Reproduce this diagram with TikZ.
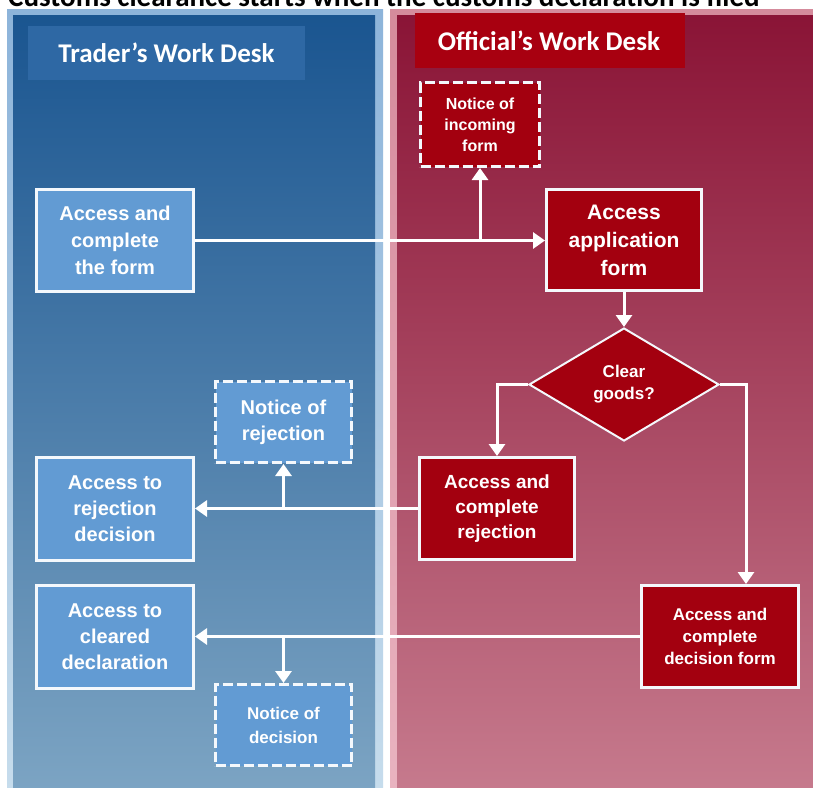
\documentclass[tikz,border=0pt]{standalone}
\usepackage{fontspec}
\setmainfont{Liberation Sans}
\newfontfamily\calib{Carlito}
\usetikzlibrary{shapes.geometric,arrows.meta,calc}
\definecolor{bluetop}{HTML}{1A5590}
\definecolor{bluebot}{HTML}{7CA4C3}
\definecolor{blueedgetop}{HTML}{8DB4DA}
\definecolor{blueedgebot}{HTML}{C6DCEC}
\definecolor{redtop}{HTML}{8A1436}
\definecolor{redbot}{HTML}{C67A8D}
\definecolor{rededgetop}{HTML}{D58B9C}
\definecolor{rededgebot}{HTML}{E9B3C0}
\definecolor{boxblue}{HTML}{629BD3}
\definecolor{boxred}{HTML}{A3000F}
\definecolor{hdrblue}{HTML}{2E68A4}
\definecolor{hdrred}{HTML}{A80010}
\definecolor{edgewhite}{HTML}{F4F8FC}
\newcommand\myfs[2]{\fontsize{#1}{#2}\selectfont\bfseries}
\tikzset{
  bluebox/.style={draw=edgewhite, line width=3pt, fill=boxblue, text=white, align=center, inner sep=0pt},
  redbox/.style={draw=edgewhite, line width=3pt, fill=boxred, text=white, align=center, inner sep=0pt},
  dashedge/.style={dash pattern=on 10pt off 4pt},
  conn/.style={draw=white, line width=3pt},
  arr/.style={conn, -{Triangle[length=12pt,width=16pt]}},
  hdr/.style={text=white, inner sep=0pt, font=\calib\bfseries\fontsize{27}{30}\selectfont}
}
\begin{document}
\begin{tikzpicture}[x=1pt,y=-1pt]
\useasboundingbox (0,0) rectangle (813,787);
\fill[white] (0,0) rectangle (813,787);
% title (cut off at the top, as in the reference)
\node[anchor=base west, inner sep=0pt, text=black, font=\calib\bfseries\fontsize{29}{32}\selectfont] (title) at (8,6.5) {Customs clearance starts when the customs declaration is filed};
% left panel
\shade[top color=blueedgetop, bottom color=blueedgebot] (7,9) rectangle (383,790);
\shade[top color=bluetop, bottom color=bluebot] (13,15) rectangle (375,790);
% right panel
\shade[top color=rededgetop, bottom color=rededgebot] (390,9) rectangle (820,790);
\shade[top color=redtop, bottom color=redbot] (397,15) rectangle (820,790);
% headers
\fill[hdrblue] (28,26) rectangle (305,80);
\node[hdr] (th) at (166.5,53) {Trader’s Work Desk};
\fill[hdrred] (415,13) rectangle (685,68);
\node[hdr] (oh) at (549,40.5) {Official’s Work Desk};
% blue nodes
\node[bluebox, font=\myfs{20}{27}, minimum width=157pt, minimum height=102pt] (form) at (115,240.5) {Access and\\ complete\\ the form};
\node[bluebox, font=\myfs{20}{26}, minimum width=157pt, minimum height=103pt] (rejdec) at (115,509) {Access to\\ rejection\\ decision};
\node[bluebox, font=\myfs{20}{26}, minimum width=157pt, minimum height=103pt] (cleared) at (115,637) {Access to\\ cleared\\ declaration};
\node[bluebox, dashedge, font=\myfs{20}{26}, minimum width=136pt, minimum height=81pt] (nrej) at (283.5,422) {Notice of\\ rejection};
\node[bluebox, dashedge, font=\myfs{17}{24}, minimum width=136pt, minimum height=81pt] (ndec) at (283.5,725) {Notice of\\ decision};
% red nodes
\node[redbox, dashedge, font=\myfs{16}{21}, minimum width=119pt, minimum height=84pt] (ninc) at (480,124.5) {Notice of\\ incoming\\ form};
\node[redbox, font=\myfs{21}{28}, minimum width=155pt, minimum height=101pt] (app) at (624,240) {Access\\ application\\ form};
\node[redbox, diamond, line width=2pt, font=\myfs{17}{22}, minimum width=190pt, minimum height=113pt] (dia) at (624,384.5) {Clear\\ goods?};
\node[redbox, font=\myfs{19}{25}, minimum width=155pt, minimum height=102pt] (rej) at (497,508.5) {Access and\\ complete\\ rejection};
\node[redbox, font=\myfs{17}{22}, minimum width=157pt, minimum height=102pt] (dec) at (720,636.5) {Access and\\ complete\\ decision form};
% connectors
\draw[arr] (form.east) -- (form.east -| app.west);
\draw[arr] (ninc.south |- form.east) -- (ninc.south);
\draw[arr] (app.south) -- (dia.north);
\draw[arr] (dia.west) -| (rej.north);
\coordinate (decin) at ($(dec.north)+(26,0)$);
\draw[arr] (dia.east) -| (decin);
\draw[arr] (rej.west) -- (rej.west -| rejdec.east);
\draw[arr] (nrej.south |- rej.west) -- (nrej.south);
\draw[arr] (dec.west) -- (dec.west -| cleared.east);
\draw[arr] (ndec.north |- dec.west) -- (ndec.north);
\end{tikzpicture}
\end{document}
